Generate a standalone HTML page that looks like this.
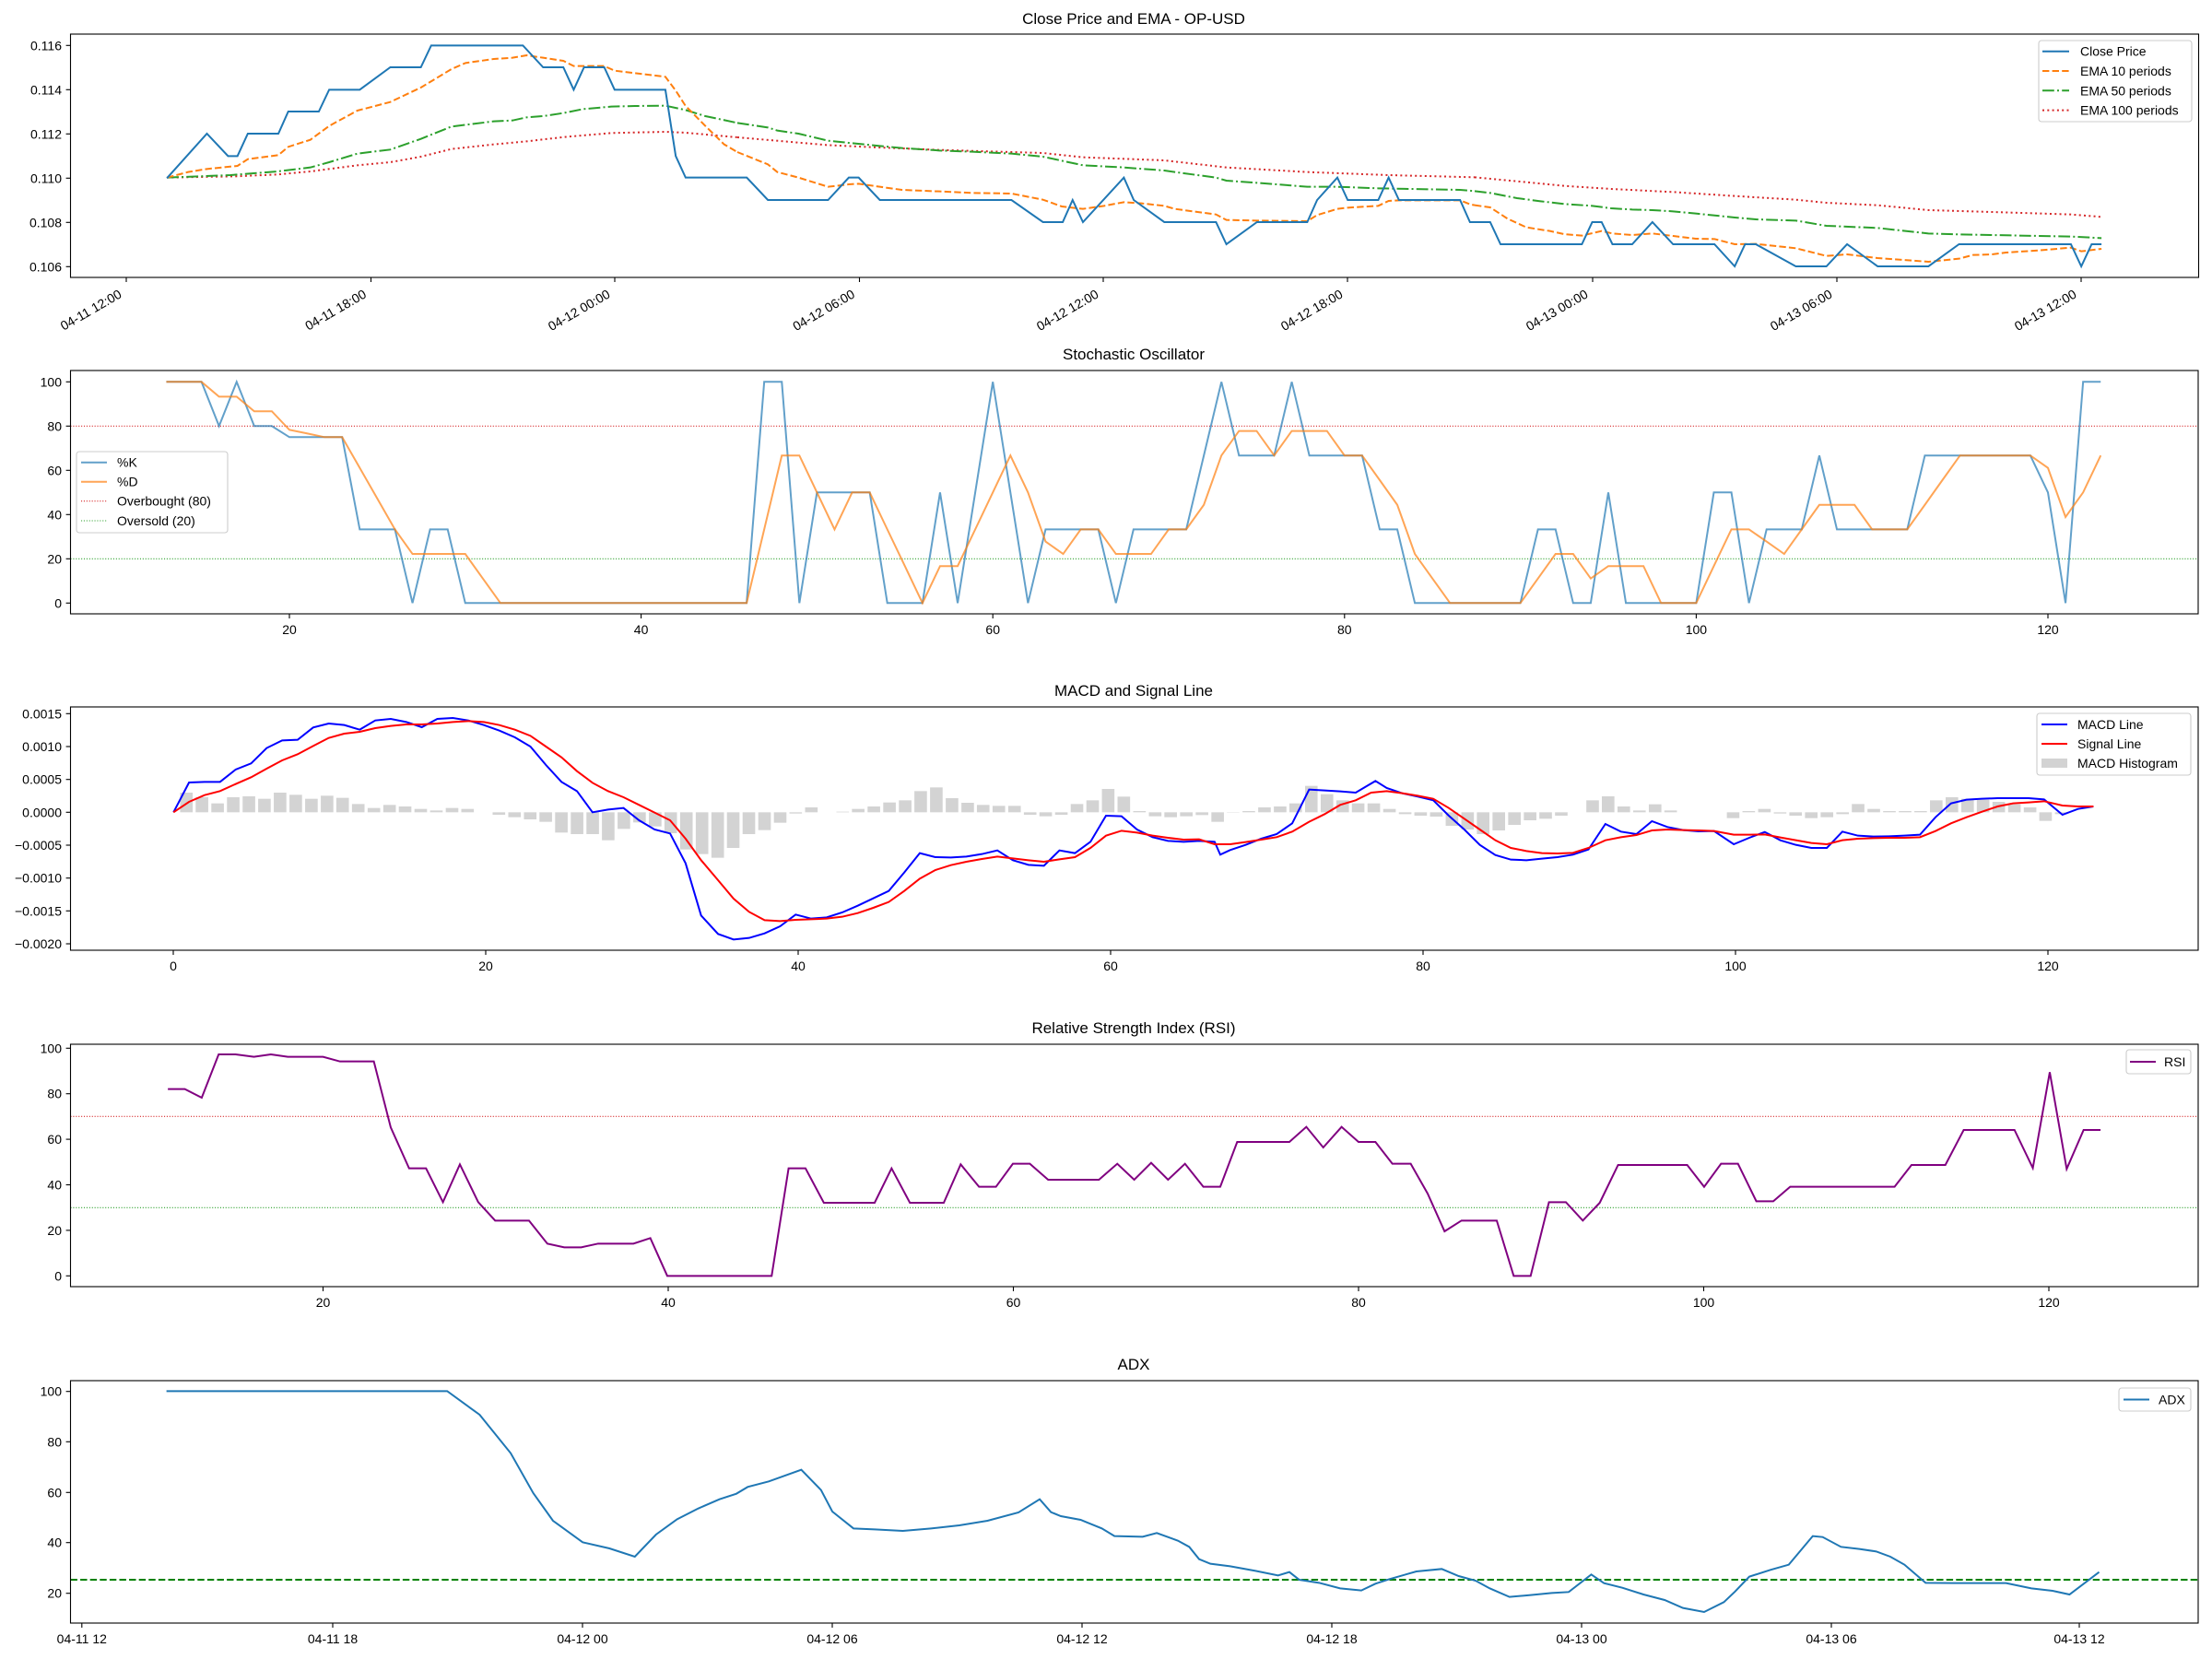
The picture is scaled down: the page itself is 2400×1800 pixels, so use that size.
<!DOCTYPE html>
<html><head><meta charset="utf-8"><style>
html,body{margin:0;padding:0;background:#fff;}
svg{display:block;font-family:"Liberation Sans",sans-serif;}
.ns{vector-effect:non-scaling-stroke;fill:none;}
.t{font-size:14px;fill:#000;}
.ti{font-size:17px;fill:#000;text-anchor:middle;}
</style></head><body>
<svg width="2400" height="1800" viewBox="0 0 2400 1800" xmlns="http://www.w3.org/2000/svg">
<rect width="2400" height="1800" fill="#fff"/>

<!-- ============ PANEL 1 ============ -->
<text class="ti" x="1230" y="26">Close Price and EMA - OP-USD</text>
<g transform="translate(0,0) scale(0.5102,0.33333)">
<polyline class="ns" stroke="#d62728" stroke-width="2" stroke-dasharray="2,3.3" points="355,578 500,574 590,568 660,558 760,538 830,528 895,510 960,485 1050,470 1120,460 1200,446 1300,433 1415,429 1458,432 1568,447"/>
<polyline class="ns" stroke="#2ca02c" stroke-width="2" stroke-dasharray="12.8,3.2,2,3.2" points="355,578 490,570 590,558 660,545 700,528 760,500 830,487 895,452 960,412 1050,395 1090,392 1120,382 1155,378 1198,368 1240,355 1300,347 1350,345 1415,344 1458,358 1500,378 1568,400"/>
<polyline class="ns" stroke="#ff7f0e" stroke-width="2" stroke-dasharray="7.4,3.2" points="355,578 400,560 440,550 505,540 527,518 592,505 613,478 660,455 700,410 760,360 830,332 895,285 960,225 990,205 1050,192 1090,188 1120,180 1155,188 1198,198 1220,215 1285,215 1307,230 1415,250 1437,295 1458,345 1500,410 1540,470 1568,495"/>
<polyline class="ns" stroke="#1f77b4" stroke-width="2" points="355,580 440,435 485,508 505,508 527,435 592,435 613,363 678,363 700,292 765,292 830,219 895,219 917,148 1112,148 1155,219 1198,219 1220,292 1242,219 1285,219 1307,292 1415,292 1437,508 1458,578 1568,578"/>
</g>
<g transform="translate(800,0) scale(0.5102,0.33333)">
<polyline class="ns" stroke="#d62728" stroke-width="2" stroke-dasharray="2,3.3" points="0,447 190,472 300,480 430,488 650,498 735,512 908,522 1040,545 1212,560 1385,570 1568,577"/>
<polyline class="ns" stroke="#2ca02c" stroke-width="2" stroke-dasharray="12.8,3.2,2,3.2" points="0,400 65,415 85,425 130,435 193,458 237,465 303,475 350,482 430,490 500,494 583,500 650,510 735,538 822,545 908,555 930,560 1018,578 1040,588 1105,595 1212,608 1276,608 1363,613 1537,618 1568,622"/>
<polyline class="ns" stroke="#ff7f0e" stroke-width="2" stroke-dasharray="7.4,3.2" points="0,495 65,535 85,560 130,578 193,608 237,600 258,598 303,608 350,618 430,623 500,628 583,630 650,650 690,672 735,680 780,670 822,658 860,662 908,670 930,680 1018,698 1040,716 1105,718 1212,720 1233,700 1276,680 1298,676 1363,670 1385,654 1407,652 1537,652 1558,665 1568,668"/>
<polyline class="ns" stroke="#1f77b4" stroke-width="2" points="0,578 20,578 65,651 193,651 237,578 258,578 303,651 583,651 650,723 692,723 713,651 735,723 822,578 843,651 908,723 1018,723 1040,795 1105,723 1212,723 1233,651 1276,578 1298,651 1363,651 1385,578 1407,651 1537,651 1558,723 1568,723"/>
</g>
<g transform="translate(1600,0) scale(0.5102,0.33333)">
<polyline class="ns" stroke="#d62728" stroke-width="2" stroke-dasharray="2,3.3" points="0,577 90,590 190,605 290,615 422,625 553,638 683,650 748,660 857,668 965,684 1100,690 1268,698 1333,706"/>
<polyline class="ns" stroke="#2ca02c" stroke-width="2" stroke-dasharray="12.8,3.2,2,3.2" points="0,622 33,628 90,645 140,655 190,664 250,670 290,678 335,682 378,684 422,688 470,695 553,708 598,714 683,718 748,735 857,742 965,760 1030,763 1268,770 1333,775"/>
<polyline class="ns" stroke="#ff7f0e" stroke-width="2" stroke-dasharray="7.4,3.2" points="0,668 33,675 70,712 110,740 160,752 190,762 228,767 270,752 293,760 335,765 378,760 422,768 470,777 510,778 553,795 598,794 683,808 748,833 792,828 857,840 965,852 1030,842 1060,830 1100,828 1130,822 1200,815 1268,806 1290,818 1333,810"/>
<polyline class="ns" stroke="#1f77b4" stroke-width="2" points="0,723 33,723 55,795 228,795 250,723 270,723 293,795 335,795 378,723 422,795 510,795 553,867 575,795 598,795 683,867 748,867 792,795 857,867 965,867 1030,795 1268,795 1290,867 1312,795 1333,795"/>
</g>
<rect x="76.5" y="37" width="2309" height="264" fill="none" stroke="#000" stroke-width="1.1"/>
<g stroke="#000" stroke-width="1.1">
<line x1="71.6" x2="76.5" y1="49.3" y2="49.3"/><line x1="71.6" x2="76.5" y1="97.3" y2="97.3"/><line x1="71.6" x2="76.5" y1="145.3" y2="145.3"/><line x1="71.6" x2="76.5" y1="193.3" y2="193.3"/><line x1="71.6" x2="76.5" y1="241.3" y2="241.3"/><line x1="71.6" x2="76.5" y1="289.3" y2="289.3"/>
<line x1="137" x2="137" y1="301" y2="306"/><line x1="402.5" x2="402.5" y1="301" y2="306"/><line x1="667" x2="667" y1="301" y2="306"/><line x1="932.5" x2="932.5" y1="301" y2="306"/><line x1="1197" x2="1197" y1="301" y2="306"/><line x1="1462" x2="1462" y1="301" y2="306"/><line x1="1728" x2="1728" y1="301" y2="306"/><line x1="1993" x2="1993" y1="301" y2="306"/><line x1="2258" x2="2258" y1="301" y2="306"/>
</g>
<g class="t" text-anchor="end">
<text x="67" y="54.3">0.116</text><text x="67" y="102.3">0.114</text><text x="67" y="150.3">0.112</text><text x="67" y="198.3">0.110</text><text x="67" y="246.3">0.108</text><text x="67" y="294.3">0.106</text>
<text transform="translate(133,322) rotate(-30)">04-11 12:00</text>
<text transform="translate(398.5,322) rotate(-30)">04-11 18:00</text>
<text transform="translate(663,322) rotate(-30)">04-12 00:00</text>
<text transform="translate(928.5,322) rotate(-30)">04-12 06:00</text>
<text transform="translate(1193,322) rotate(-30)">04-12 12:00</text>
<text transform="translate(1458,322) rotate(-30)">04-12 18:00</text>
<text transform="translate(1724,322) rotate(-30)">04-13 00:00</text>
<text transform="translate(1989,322) rotate(-30)">04-13 06:00</text>
<text transform="translate(2254,322) rotate(-30)">04-13 12:00</text>
</g>
<rect x="2212" y="44" width="166" height="88" rx="3" fill="#fff" fill-opacity="0.8" stroke="#ccc" stroke-width="1.1"/>
<line x1="2216" x2="2245" y1="55.7" y2="55.7" stroke="#1f77b4" stroke-width="2"/>
<line x1="2216" x2="2245" y1="77" y2="77" stroke="#ff7f0e" stroke-width="2" stroke-dasharray="7.4,3.2"/>
<line x1="2216" x2="2245" y1="98.3" y2="98.3" stroke="#2ca02c" stroke-width="2" stroke-dasharray="12.8,3.2,2,3.2"/>
<line x1="2216" x2="2245" y1="119.6" y2="119.6" stroke="#d62728" stroke-width="2" stroke-dasharray="2,3.3"/>
<g class="t"><text x="2257" y="60.7">Close Price</text><text x="2257" y="82">EMA 10 periods</text><text x="2257" y="103.3">EMA 50 periods</text><text x="2257" y="124.6">EMA 100 periods</text></g>

<!-- ============ PANEL 2 STOCH ============ -->
<text class="ti" x="1230" y="390">Stochastic Oscillator</text>
<line x1="76.5" x2="2385" y1="462.3" y2="462.3" stroke="#d62728" stroke-width="1.1" stroke-dasharray="1.1,1.8"/>
<line x1="76.5" x2="2385" y1="606.3" y2="606.3" stroke="#2ca02c" stroke-width="1.1" stroke-dasharray="1.1,1.8"/>
<g transform="matrix(19.08,0,0,-2.4,-67.6,654.3)">
<polyline class="ns" stroke="#1f77b4" stroke-opacity="0.7" stroke-width="2" points="13,100 14,100 15,100 16,80 17,100 18,80 19,80 20,75 21,75 22,75 23,75 24,33.3 25,33.3 26,33.3 27,0 28,33.3 29,33.3 30,0 31,0 46,0 47,100 48,100 49,0 50,50 51,50 52,50 53,50 54,0 55,0 56,0 57,50 58,0 59,50 60,100 61,50 62,0 63,33.3 64,33.3 65,33.3 66,33.3 67,0 68,33.3 69,33.3 70,33.3 71,33.3 72,66.7 73,100 74,66.7 75,66.7 76,66.7 77,100 78,66.7 79,66.7 80,66.7 81,66.7 82,33.3 83,33.3 84,0 90,0 91,33.3 92,33.3 93,0 94,0 95,50 96,0 100,0 101,50 102,50 103,0 104,33.3 105,33.3 106,33.3 107,66.7 108,33.3 112,33.3 113,66.7 119,66.7 120,50 121,0 122,100 123,100"/>
<polyline class="ns" stroke="#ff7f0e" stroke-opacity="0.7" stroke-width="2" points="13,100 14,100 15,100 16,93.3 17,93.3 18,86.7 19,86.7 20,78.3 21,76.7 22,75 23,75 24,61.1 25,47.2 26,33.3 27,22.2 28,22.2 29,22.2 30,22.2 31,11.1 32,0 46,0 47,33.3 48,66.7 49,66.7 50,50 51,33.3 52,50 53,50 54,33.3 55,16.7 56,0 57,16.7 58,16.7 59,33.3 60,50 61,66.7 62,50 63,27.8 64,22.2 65,33.3 66,33.3 67,22.2 68,22.2 69,22.2 70,33.3 71,33.3 72,44.4 73,66.7 74,77.8 75,77.8 76,66.7 77,77.8 78,77.8 79,77.8 80,66.7 81,66.7 82,55.6 83,44.4 84,22.2 85,11.1 86,0 90,0 91,11.1 92,22.2 93,22.2 94,11.1 95,16.7 96,16.7 97,16.7 98,0 100,0 101,16.7 102,33.3 103,33.3 104,27.8 105,22.2 106,33.3 107,44.4 108,44.4 109,44.4 110,33.3 112,33.3 113,44.4 114,55.6 115,66.7 119,66.7 120,61.1 121,38.9 122,50 123,66.7"/>
</g>
<rect x="76.5" y="402" width="2308.5" height="264" fill="none" stroke="#000" stroke-width="1.1"/>
<g stroke="#000" stroke-width="1.1">
<line x1="71.6" x2="76.5" y1="414.3" y2="414.3"/><line x1="71.6" x2="76.5" y1="462.3" y2="462.3"/><line x1="71.6" x2="76.5" y1="510.3" y2="510.3"/><line x1="71.6" x2="76.5" y1="558.3" y2="558.3"/><line x1="71.6" x2="76.5" y1="606.3" y2="606.3"/><line x1="71.6" x2="76.5" y1="654.3" y2="654.3"/>
<line x1="314" x2="314" y1="666" y2="671"/><line x1="695.6" x2="695.6" y1="666" y2="671"/><line x1="1077.2" x2="1077.2" y1="666" y2="671"/><line x1="1458.8" x2="1458.8" y1="666" y2="671"/><line x1="1840.4" x2="1840.4" y1="666" y2="671"/><line x1="2222" x2="2222" y1="666" y2="671"/>
</g>
<g class="t" text-anchor="end"><text x="67" y="419.3">100</text><text x="67" y="467.3">80</text><text x="67" y="515.3">60</text><text x="67" y="563.3">40</text><text x="67" y="611.3">20</text><text x="67" y="659.3">0</text></g>
<g class="t" text-anchor="middle"><text x="314" y="688">20</text><text x="695.6" y="688">40</text><text x="1077.2" y="688">60</text><text x="1458.8" y="688">80</text><text x="1840.4" y="688">100</text><text x="2222" y="688">120</text></g>
<rect x="83" y="490" width="164" height="88" rx="3" fill="#fff" fill-opacity="0.8" stroke="#ccc" stroke-width="1.1"/>
<line x1="88" x2="116" y1="501.7" y2="501.7" stroke="#1f77b4" stroke-opacity="0.7" stroke-width="2"/>
<line x1="88" x2="116" y1="522.7" y2="522.7" stroke="#ff7f0e" stroke-opacity="0.7" stroke-width="2"/>
<line x1="88" x2="116" y1="543.7" y2="543.7" stroke="#d62728" stroke-width="1.1" stroke-dasharray="1.1,1.8"/>
<line x1="88" x2="116" y1="565" y2="565" stroke="#2ca02c" stroke-width="1.1" stroke-dasharray="1.1,1.8"/>
<g class="t"><text x="127" y="506.7">%K</text><text x="127" y="527.7">%D</text><text x="127" y="548.7">Overbought (80)</text><text x="127" y="570">Oversold (20)</text></g>

<!-- ============ PANEL 3 MACD ============ -->
<text class="ti" x="1230" y="755">MACD and Signal Line</text>
<g transform="translate(0,740) scale(1.5306,0.33333)" fill="#d3d3d3">
<rect x="127.7" y="360" width="8.9" height="64"/><rect x="138.7" y="375" width="8.9" height="49"/><rect x="149.8" y="395" width="8.9" height="29"/><rect x="160.9" y="375" width="8.9" height="49"/><rect x="172" y="372" width="8.9" height="52"/><rect x="183" y="380" width="8.9" height="44"/><rect x="194.1" y="360" width="8.9" height="64"/><rect x="205.2" y="367" width="8.9" height="57"/><rect x="216.3" y="380" width="8.9" height="44"/><rect x="227.4" y="370" width="8.9" height="54"/><rect x="238.4" y="377" width="8.9" height="47"/><rect x="249.5" y="397" width="8.9" height="27"/><rect x="260.6" y="410" width="8.9" height="14"/><rect x="271.7" y="400" width="8.9" height="24"/><rect x="282.7" y="405" width="8.9" height="19"/><rect x="293.8" y="413" width="8.9" height="11"/><rect x="304.9" y="418" width="8.9" height="6"/><rect x="316" y="410" width="8.9" height="14"/><rect x="327" y="413" width="8.9" height="11"/>
<rect x="349.2" y="424" width="8.9" height="8"/><rect x="360.3" y="424" width="8.9" height="16"/><rect x="371.4" y="424" width="8.9" height="23"/><rect x="382.4" y="424" width="8.9" height="31"/><rect x="393.5" y="424" width="8.9" height="66"/><rect x="404.6" y="424" width="8.9" height="71"/><rect x="415.7" y="424" width="8.9" height="71"/><rect x="426.7" y="424" width="8.9" height="91"/><rect x="437.8" y="424" width="8.9" height="54"/><rect x="448.9" y="424" width="8.9" height="33"/><rect x="460" y="424" width="8.9" height="46"/><rect x="471" y="424" width="8.9" height="68"/><rect x="482.1" y="424" width="8.9" height="121"/><rect x="493.2" y="424" width="8.9" height="136"/><rect x="504.3" y="424" width="8.9" height="148"/><rect x="515.3" y="424" width="8.9" height="116"/><rect x="526.4" y="424" width="8.9" height="71"/><rect x="537.5" y="424" width="8.9" height="58"/><rect x="548.6" y="424" width="8.9" height="34"/><rect x="559.6" y="424" width="8.9" height="4"/>
<rect x="570.7" y="408" width="8.9" height="16"/><rect x="592.9" y="422" width="8.9" height="2"/><rect x="603.9" y="413" width="8.9" height="11"/><rect x="615" y="405" width="8.9" height="19"/><rect x="626.1" y="392" width="8.9" height="32"/><rect x="637.2" y="385" width="8.9" height="39"/><rect x="648.2" y="355" width="8.9" height="69"/><rect x="659.3" y="343" width="8.9" height="81"/><rect x="670.4" y="378" width="8.9" height="46"/><rect x="681.5" y="393" width="8.9" height="31"/><rect x="692.5" y="400" width="8.9" height="24"/><rect x="703.6" y="403" width="8.9" height="21"/><rect x="714.7" y="403" width="8.9" height="21"/>
<rect x="725.8" y="424" width="8.9" height="8"/><rect x="736.8" y="424" width="8.9" height="13"/><rect x="747.9" y="424" width="8.9" height="8"/><rect x="759" y="397" width="8.9" height="27"/><rect x="770.1" y="385" width="8.9" height="39"/><rect x="781.1" y="348" width="8.9" height="76"/><rect x="792.2" y="373" width="8.9" height="51"/><rect x="803.3" y="420" width="8.9" height="4"/><rect x="814.4" y="424" width="8.9" height="13"/><rect x="825.4" y="424" width="8.9" height="16"/><rect x="836.5" y="424" width="8.9" height="13"/><rect x="847.6" y="424" width="8.9" height="9"/><rect x="858.7" y="424" width="8.9" height="31"/><rect x="869.7" y="424" width="8.9" height="1"/><rect x="880.8" y="420" width="8.9" height="4"/><rect x="891.9" y="408" width="8.9" height="16"/><rect x="903" y="405" width="8.9" height="19"/><rect x="914" y="395" width="8.9" height="29"/><rect x="925.1" y="338" width="8.9" height="86"/><rect x="936.2" y="365" width="8.9" height="59"/><rect x="947.3" y="385" width="8.9" height="39"/><rect x="958.3" y="395" width="8.9" height="29"/><rect x="969.4" y="395" width="8.9" height="29"/><rect x="980.5" y="413" width="8.9" height="11"/>
<rect x="991.6" y="424" width="8.9" height="6"/><rect x="1002.6" y="424" width="8.9" height="11"/><rect x="1013.7" y="424" width="8.9" height="14"/><rect x="1024.8" y="424" width="8.9" height="44"/><rect x="1035.9" y="424" width="8.9" height="56"/><rect x="1046.9" y="424" width="8.9" height="71"/><rect x="1058" y="424" width="8.9" height="59"/><rect x="1069.1" y="424" width="8.9" height="41"/><rect x="1080.2" y="424" width="8.9" height="26"/><rect x="1091.2" y="424" width="8.9" height="21"/><rect x="1102.3" y="424" width="8.9" height="11"/>
<rect x="1124.5" y="385" width="8.9" height="39"/><rect x="1135.5" y="372" width="8.9" height="52"/><rect x="1146.6" y="405" width="8.9" height="19"/><rect x="1157.7" y="418" width="8.9" height="6"/><rect x="1168.8" y="398" width="8.9" height="26"/><rect x="1179.8" y="418" width="8.9" height="6"/>
<rect x="1224.1" y="424" width="8.9" height="19"/><rect x="1235.2" y="420" width="8.9" height="4"/><rect x="1246.3" y="413" width="8.9" height="11"/><rect x="1257.4" y="424" width="8.9" height="4"/><rect x="1268.4" y="424" width="8.9" height="11"/><rect x="1279.5" y="424" width="8.9" height="19"/><rect x="1290.6" y="424" width="8.9" height="16"/><rect x="1301.7" y="424" width="8.9" height="6"/><rect x="1312.7" y="397" width="8.9" height="27"/><rect x="1323.8" y="413" width="8.9" height="11"/><rect x="1334.9" y="420" width="8.9" height="4"/><rect x="1346" y="420" width="8.9" height="4"/><rect x="1357" y="420" width="8.9" height="4"/><rect x="1368.1" y="385" width="8.9" height="39"/><rect x="1379.2" y="375" width="8.9" height="49"/><rect x="1390.3" y="380" width="8.9" height="44"/><rect x="1401.3" y="383" width="8.9" height="41"/><rect x="1412.4" y="390" width="8.9" height="34"/><rect x="1423.5" y="398" width="8.9" height="26"/><rect x="1434.6" y="408" width="8.9" height="16"/><rect x="1445.6" y="424" width="8.9" height="28"/><rect x="1456.7" y="424" width="8.9" height="6"/>
<polyline class="ns" stroke="#0000ff" stroke-width="2" points="123,424 134,327 145,325 156,325 167,285 178,265 189,215 200,190 211,188 222,148 233,135 244,140 255,155 266,125 277,120 288,130 299,147 310,120 321,117 332,125 343,140 354,158 365,180 376,210 387,270 398,325 409,355 420,424 431,415 442,410 453,450 464,480 475,493 486,590 497,760 509,820 520,838 531,833 542,818 553,795 564,757 575,770 586,766 597,750 608,728 619,704 630,680 641,620 652,557 663,570 674,571 685,568 696,560 707,548 718,580 729,595 740,598 751,548 762,557 773,520 784,435 795,437 806,480 817,505 828,517 839,520 850,517 861,520 865,562 872,547 883,530 894,510 905,495 916,460 928,350 939,353 950,356 961,360 975,322 983,345 994,362 1005,373 1016,385 1027,435 1038,480 1049,530 1060,563 1071,578 1082,580 1093,575 1104,570 1115,562 1126,545 1138,462 1149,487 1160,495 1171,453 1182,472 1193,482 1204,486 1215,485 1229,528 1240,507 1251,488 1262,515 1273,530 1284,540 1295,540 1306,487 1317,500 1328,503 1339,502 1350,500 1361,497 1372,440 1383,395 1394,383 1405,380 1416,378 1427,378 1438,378 1449,382 1462,432 1473,413 1484,405"/>
<polyline class="ns" stroke="#ff0000" stroke-width="2" points="123,424 134,390 145,368 156,355 167,332 178,310 189,282 200,255 211,235 222,208 233,182 244,168 255,162 266,150 277,143 288,138 299,138 310,135 321,130 332,127 343,130 354,140 365,155 376,175 387,210 398,245 409,290 420,328 431,355 442,375 453,400 464,425 475,450 486,510 497,580 509,645 520,705 531,748 542,775 553,778 564,774 575,772 586,770 597,764 608,752 619,735 630,716 641,680 652,640 663,612 674,596 685,585 696,576 707,568 718,574 729,580 740,585 751,577 762,570 773,540 784,500 795,484 806,490 817,500 828,507 839,513 850,512 861,528 872,528 883,521 894,513 905,505 916,487 928,455 939,430 950,400 961,385 972,360 983,355 994,362 1005,370 1016,380 1027,410 1038,445 1049,480 1060,515 1071,540 1082,550 1093,557 1104,558 1115,556 1126,540 1138,515 1149,505 1160,498 1171,483 1182,480 1193,482 1204,483 1215,485 1229,497 1240,497 1251,496 1262,506 1273,515 1284,524 1295,528 1306,515 1317,510 1328,508 1339,507 1350,507 1361,505 1372,485 1383,460 1394,440 1405,422 1416,405 1427,395 1438,392 1449,388 1462,402 1473,405 1484,405"/>
</g>
<rect x="76.5" y="767" width="2308.5" height="264" fill="none" stroke="#000" stroke-width="1.1"/>
<g stroke="#000" stroke-width="1.1">
<line x1="71.6" x2="76.5" y1="774.3" y2="774.3"/><line x1="71.6" x2="76.5" y1="810" y2="810"/><line x1="71.6" x2="76.5" y1="845.7" y2="845.7"/><line x1="71.6" x2="76.5" y1="881.3" y2="881.3"/><line x1="71.6" x2="76.5" y1="917" y2="917"/><line x1="71.6" x2="76.5" y1="952.7" y2="952.7"/><line x1="71.6" x2="76.5" y1="988.3" y2="988.3"/><line x1="71.6" x2="76.5" y1="1024" y2="1024"/>
<line x1="188" x2="188" y1="1031" y2="1036"/><line x1="527" x2="527" y1="1031" y2="1036"/><line x1="866" x2="866" y1="1031" y2="1036"/><line x1="1205" x2="1205" y1="1031" y2="1036"/><line x1="1544" x2="1544" y1="1031" y2="1036"/><line x1="1883" x2="1883" y1="1031" y2="1036"/><line x1="2222" x2="2222" y1="1031" y2="1036"/>
</g>
<g class="t" text-anchor="end"><text x="67" y="779.3">0.0015</text><text x="67" y="815">0.0010</text><text x="67" y="850.7">0.0005</text><text x="67" y="886.3">0.0000</text><text x="67" y="922">−0.0005</text><text x="67" y="957.7">−0.0010</text><text x="67" y="993.3">−0.0015</text><text x="67" y="1029">−0.0020</text></g>
<g class="t" text-anchor="middle"><text x="188" y="1053">0</text><text x="527" y="1053">20</text><text x="866" y="1053">40</text><text x="1205" y="1053">60</text><text x="1544" y="1053">80</text><text x="1883" y="1053">100</text><text x="2222" y="1053">120</text></g>
<rect x="2210" y="774" width="167" height="67" rx="3" fill="#fff" fill-opacity="0.8" stroke="#ccc" stroke-width="1.1"/>
<line x1="2215" x2="2243" y1="786" y2="786" stroke="#0000ff" stroke-width="2"/>
<line x1="2215" x2="2243" y1="807" y2="807" stroke="#ff0000" stroke-width="2"/>
<rect x="2215" y="823" width="28" height="10" fill="#d3d3d3"/>
<g class="t"><text x="2254" y="791">MACD Line</text><text x="2254" y="812">Signal Line</text><text x="2254" y="833">MACD Histogram</text></g>

<!-- ============ PANEL 4 RSI ============ -->
<text class="ti" x="1230" y="1121">Relative Strength Index (RSI)</text>
<line x1="76.5" x2="2385" y1="1211.3" y2="1211.3" stroke="#d62728" stroke-width="1.1" stroke-dasharray="1.1,1.8"/>
<line x1="76.5" x2="2385" y1="1310.3" y2="1310.3" stroke="#2ca02c" stroke-width="1.1" stroke-dasharray="1.1,1.8"/>
<g transform="translate(0,1110) scale(1.5306,0.33333)">
<polyline class="ns" stroke="#800080" stroke-width="2" points="119,215 131,215 143,243 155,102 167,102 180,110 192,102 204,110 216,110 229,110 241,125 253,125 265,125 277,340 290,473 302,473 314,583 326,460 339,583 351,643 363,643 375,643 388,718 400,730 412,730 424,718 437,718 449,718 461,700 473,823 486,823 498,823 510,823 522,823 535,823 547,823 559,473 571,473 584,585 596,585 608,585 620,585 632,473 645,585 657,585 669,585 681,460 694,533 706,533 718,458 730,458 743,510 755,510 767,510 779,510 792,458 804,510 816,455 828,510 840,458 853,533 865,533 877,387 889,387 902,387 914,387 926,338 938,405 951,338 963,387 975,387 987,458 1000,458 1012,555 1024,678 1036,643 1049,643 1061,643 1073,823 1085,823 1098,583 1110,583 1122,643 1134,585 1147,462 1159,462 1171,462 1183,462 1196,462 1208,533 1220,458 1232,458 1245,580 1257,580 1269,533 1281,533 1294,533 1306,533 1318,533 1330,533 1343,533 1355,462 1367,462 1379,462 1392,348 1404,348 1416,348 1428,348 1441,472 1453,160 1465,475 1477,348 1489,348"/>
</g>
<rect x="76.5" y="1133" width="2308.5" height="263" fill="none" stroke="#000" stroke-width="1.1"/>
<g stroke="#000" stroke-width="1.1">
<line x1="71.6" x2="76.5" y1="1137.3" y2="1137.3"/><line x1="71.6" x2="76.5" y1="1186.7" y2="1186.7"/><line x1="71.6" x2="76.5" y1="1236.1" y2="1236.1"/><line x1="71.6" x2="76.5" y1="1285.5" y2="1285.5"/><line x1="71.6" x2="76.5" y1="1334.9" y2="1334.9"/><line x1="71.6" x2="76.5" y1="1384.3" y2="1384.3"/>
<line x1="350.5" x2="350.5" y1="1396" y2="1401"/><line x1="725" x2="725" y1="1396" y2="1401"/><line x1="1099.5" x2="1099.5" y1="1396" y2="1401"/><line x1="1474" x2="1474" y1="1396" y2="1401"/><line x1="1848.5" x2="1848.5" y1="1396" y2="1401"/><line x1="2223" x2="2223" y1="1396" y2="1401"/>
</g>
<g class="t" text-anchor="end"><text x="67" y="1142.3">100</text><text x="67" y="1191.7">80</text><text x="67" y="1241.1">60</text><text x="67" y="1290.5">40</text><text x="67" y="1339.9">20</text><text x="67" y="1389.3">0</text></g>
<g class="t" text-anchor="middle"><text x="350.5" y="1418">20</text><text x="725" y="1418">40</text><text x="1099.5" y="1418">60</text><text x="1474" y="1418">80</text><text x="1848.5" y="1418">100</text><text x="2223" y="1418">120</text></g>
<rect x="2307" y="1139" width="70" height="26" rx="3" fill="#fff" fill-opacity="0.8" stroke="#ccc" stroke-width="1.1"/>
<line x1="2311" x2="2339" y1="1152" y2="1152" stroke="#800080" stroke-width="2"/>
<text class="t" x="2348" y="1157">RSI</text>

<!-- ============ PANEL 5 ADX ============ -->
<text class="ti" x="1230" y="1486">ADX</text>
<line x1="76.5" x2="2385" y1="1714" y2="1714" stroke="#008000" stroke-width="2" stroke-dasharray="7.4,3.2"/>
<g transform="translate(0,1470) scale(1.5306,0.33333)">
<polyline class="ns" stroke="#1f77b4" stroke-width="2" points="118,118 317,118 340,195 362,320 378,450 392,540 404,580 413,610 432,630 450,657 465,585 480,535 495,500 510,470 522,452 530,430 545,412 568,374 582,440 590,510 605,565 620,568 640,573 660,565 680,555 700,540 722,513 737,470 745,512 752,525 766,537 781,565 790,590 810,592 820,580 835,605 843,625 850,665 858,680 872,688 890,703 906,718 914,707 921,732 935,742 950,760 965,767 975,745 985,730 1004,705 1022,697 1034,720 1046,735 1056,760 1070,788 1085,782 1100,775 1112,772 1128,715 1137,743 1150,758 1165,780 1180,798 1193,824 1208,837 1222,805 1230,770 1240,722 1255,700 1268,683 1285,590 1292,593 1305,625 1318,632 1330,640 1340,657 1350,683 1365,742 1385,743 1422,743 1440,760 1455,768 1467,780 1488,707"/>
</g>
<rect x="76.5" y="1498" width="2308.5" height="263" fill="none" stroke="#000" stroke-width="1.1"/>
<g stroke="#000" stroke-width="1.1">
<line x1="71.6" x2="76.5" y1="1509.7" y2="1509.7"/><line x1="71.6" x2="76.5" y1="1564.3" y2="1564.3"/><line x1="71.6" x2="76.5" y1="1619.3" y2="1619.3"/><line x1="71.6" x2="76.5" y1="1673.7" y2="1673.7"/><line x1="71.6" x2="76.5" y1="1728.7" y2="1728.7"/>
<line x1="88.8" x2="88.8" y1="1761" y2="1766"/><line x1="361" x2="361" y1="1761" y2="1766"/><line x1="632" x2="632" y1="1761" y2="1766"/><line x1="903" x2="903" y1="1761" y2="1766"/><line x1="1174" x2="1174" y1="1761" y2="1766"/><line x1="1445" x2="1445" y1="1761" y2="1766"/><line x1="1716" x2="1716" y1="1761" y2="1766"/><line x1="1987" x2="1987" y1="1761" y2="1766"/><line x1="2256" x2="2256" y1="1761" y2="1766"/>
</g>
<g class="t" text-anchor="end"><text x="67" y="1514.7">100</text><text x="67" y="1569.3">80</text><text x="67" y="1624.3">60</text><text x="67" y="1678.7">40</text><text x="67" y="1733.7">20</text></g>
<g class="t" text-anchor="middle"><text x="88.8" y="1783">04-11 12</text><text x="361" y="1783">04-11 18</text><text x="632" y="1783">04-12 00</text><text x="903" y="1783">04-12 06</text><text x="1174" y="1783">04-12 12</text><text x="1445" y="1783">04-12 18</text><text x="1716" y="1783">04-13 00</text><text x="1987" y="1783">04-13 06</text><text x="2256" y="1783">04-13 12</text></g>
<rect x="2299" y="1506" width="78" height="25" rx="3" fill="#fff" fill-opacity="0.8" stroke="#ccc" stroke-width="1.1"/>
<line x1="2304" x2="2332" y1="1518.5" y2="1518.5" stroke="#1f77b4" stroke-width="2"/>
<text class="t" x="2342" y="1523.5">ADX</text>
</svg>
</body></html>
